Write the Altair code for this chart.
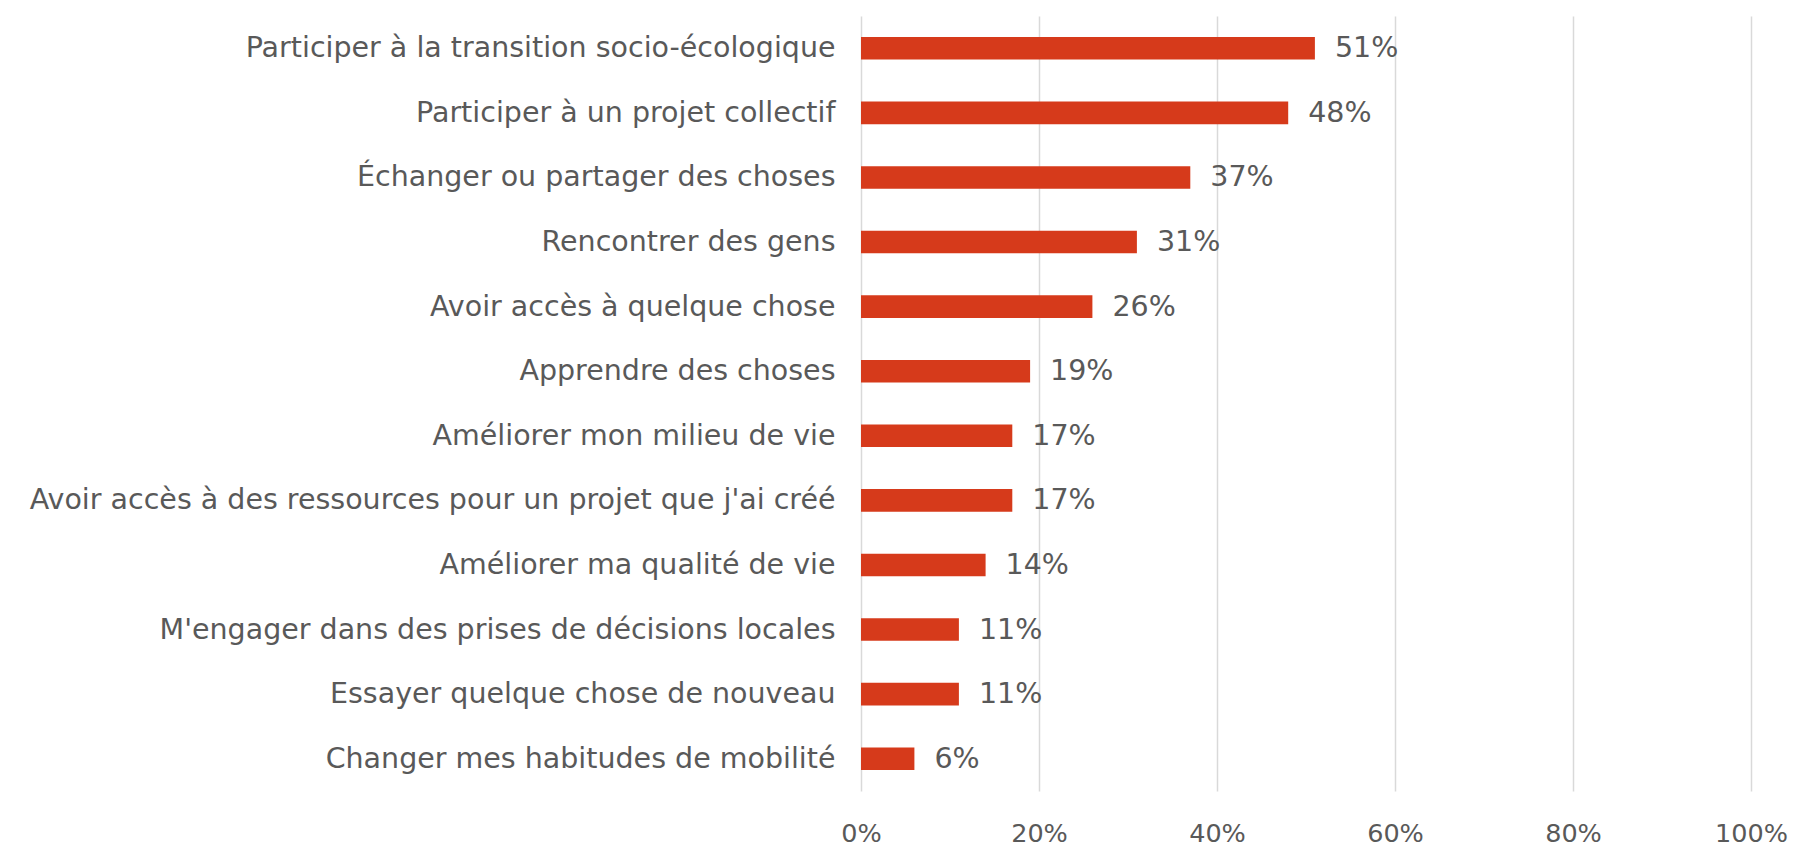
import altair as alt
import pandas as pd

categories = [
    "Participer à la transition socio-écologique",
    "Participer à un projet collectif",
    "Échanger ou partager des choses",
    "Rencontrer des gens",
    "Avoir accès à quelque chose",
    "Apprendre des choses",
    "Améliorer mon milieu de vie",
    "Avoir accès à des ressources pour un projet que j'ai créé",
    "Améliorer ma qualité de vie",
    "M'engager dans des prises de décisions locales",
    "Essayer quelque chose de nouveau",
    "Changer mes habitudes de mobilité",
]
values = [0.51, 0.48, 0.37, 0.31, 0.26, 0.19, 0.17, 0.17, 0.14, 0.11, 0.11, 0.06]
tick_values = [0, 0.2, 0.4, 0.6, 0.8, 1.0]

df = pd.DataFrame({"cat": categories, "val": values})

FONT = "DejaVu Sans"
FS = 28.5
TXT = "#595959"

x = alt.X(
    "val:Q",
    scale=alt.Scale(domain=[0, 1], nice=False),
    axis=alt.Axis(
        values=tick_values,
        format=".0%",
        title=None,
        domain=False,
        ticks=False,
        grid=True,
        gridColor="#D9D9D9",
        gridWidth=1.5,
        labelFont=FONT,
        labelFontSize=25.5,
        labelColor=TXT,
        labelPadding=30,
        labelFlush=False,
    ),
)
y = alt.Y(
    "cat:N",
    sort=categories,
    scale=alt.Scale(paddingInner=0.65, paddingOuter=0.325),
    axis=alt.Axis(
        title=None,
        domain=False,
        ticks=False,
        grid=False,
        labelFont=FONT,
        labelFontSize=FS,
        labelColor=TXT,
        labelPadding=26,
        labelLimit=1000,
    ),
)

bars = alt.Chart(df).mark_bar(color="#D63A1B").encode(x=x, y=y)
text = alt.Chart(df).mark_text(
    align="left", baseline="middle", dx=20, font=FONT, fontSize=FS, color=TXT
).encode(x=x, y=y, text=alt.Text("val:Q", format=".0%"))

chart = (
    alt.layer(bars, text)
    .properties(
        width=890,
        height=775,
        background="white",
        autosize=alt.AutoSizeParams(type="none"),
        padding={"left": 853, "top": 8, "right": 38, "bottom": 60},
    )
    .configure_view(stroke=None, strokeWidth=0)
)

chart.save("out.html", embed_options={"renderer": "svg", "actions": False})
